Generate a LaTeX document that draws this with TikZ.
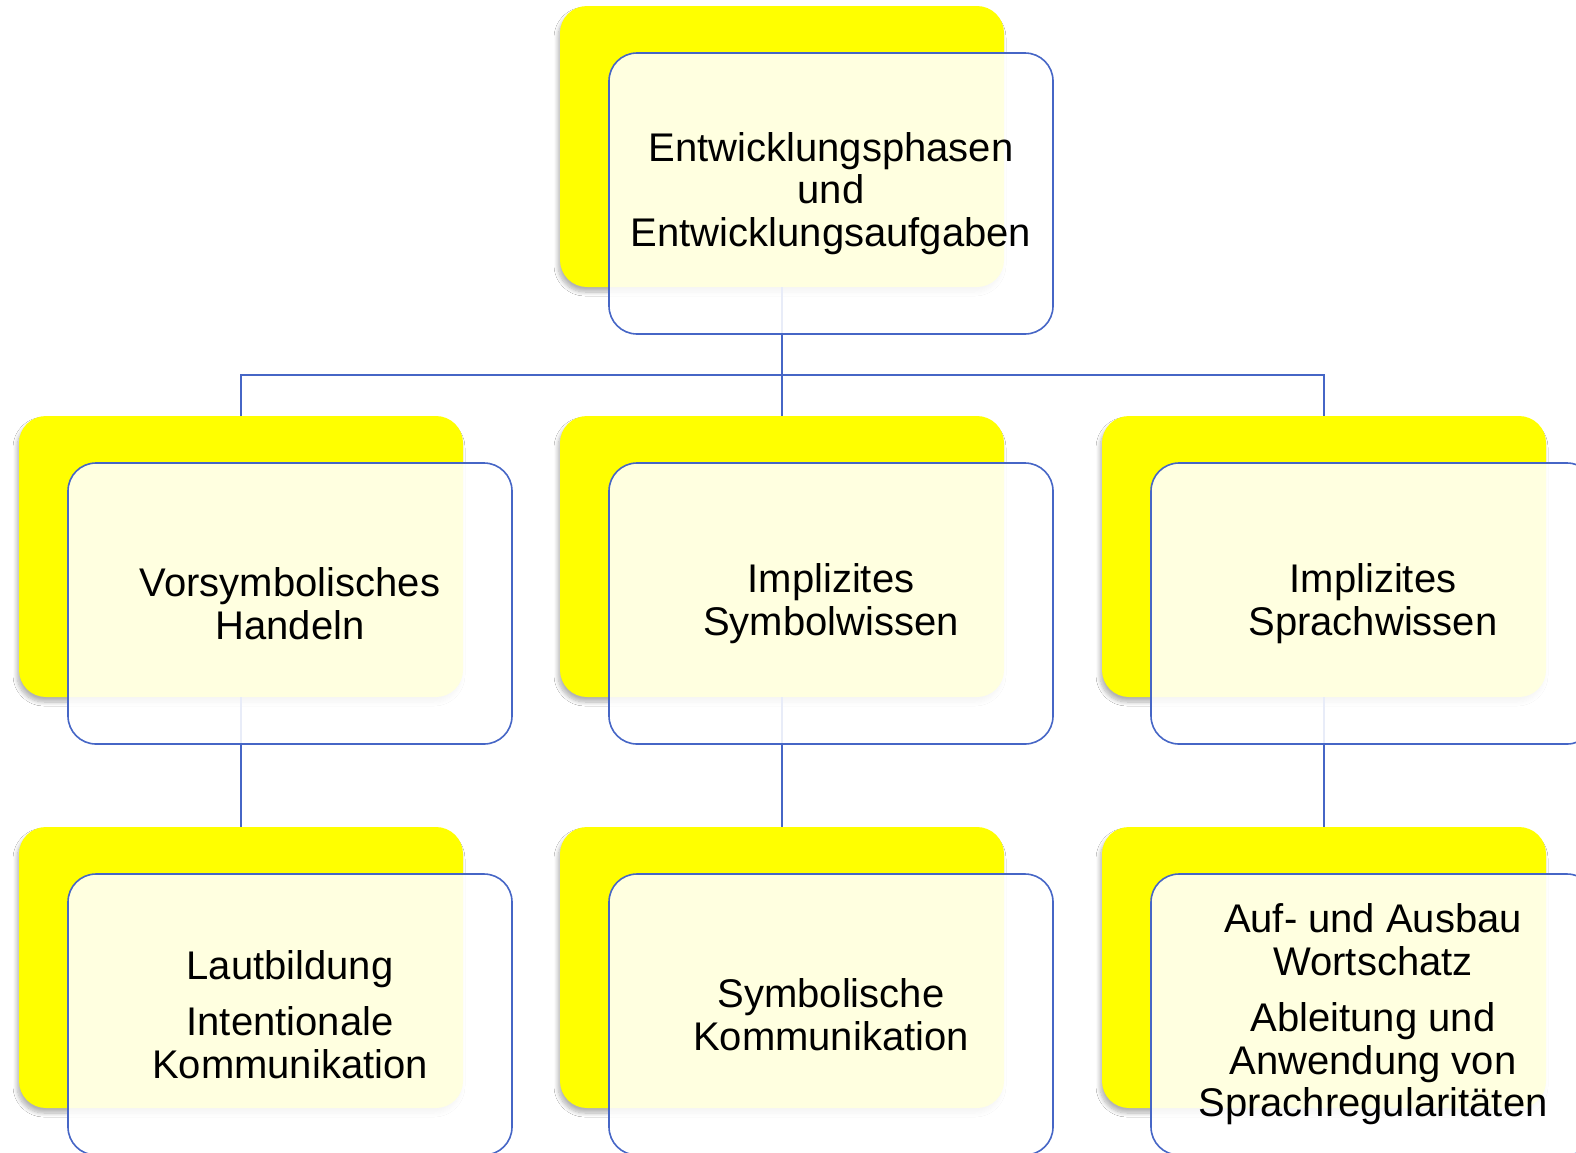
\documentclass[tikz,border=0pt]{standalone}
\usepackage{fontspec}
\setmainfont{Liberation Sans}
\usetikzlibrary{shadows.blur}
\definecolor{blueline}{RGB}{70,102,198}
\definecolor{boxyellow}{RGB}{255,255,0}
\tikzset{
  backbox/.style={rectangle, rounded corners=27pt, fill=boxyellow, draw=none,
    minimum width=444pt, minimum height=281pt, inner sep=0pt, outer sep=0pt,
    blur shadow={shadow xshift=-2pt, shadow yshift=-5pt, shadow blur radius=4pt, shadow blur steps=10, shadow opacity=30}},
  frontbox/.style={rectangle, rounded corners=28pt, fill=white, fill opacity=0.88, text opacity=1,
    draw=blueline, line width=1.6pt,
    minimum width=444pt, minimum height=281pt, inner sep=0pt, outer sep=0pt,
    align=center, font=\fontsize{40}{42.5}\selectfont},
  conn/.style={draw=blueline, line width=1.8pt}
}
\begin{document}
\begin{tikzpicture}[x=1pt, y=-1pt]
\clip (0,0) rectangle (1576,1152);
\fill[white] (0,0) rectangle (1576,1152);
% back boxes
\node[backbox] (y0) at (782,146.5) {};
\node[backbox] (y1) at (241,556.5) {};
\node[backbox] (y2) at (782,556.5) {};
\node[backbox] (y3) at (1324,556.5) {};
\node[backbox] (y4) at (241,967.5) {};
\node[backbox] (y5) at (782,967.5) {};
\node[backbox] (y6) at (1324,967.5) {};
% connectors
\coordinate (bus) at (782,375);
\draw[conn] (y0.south) -- (bus);
\draw[conn] (y1.north) |- (bus) -| (y3.north);
\draw[conn] (bus) -- (y2.north);
\draw[conn] (y1.south) -- (y4.north);
\draw[conn] (y2.south) -- (y5.north);
\draw[conn] (y3.south) -- (y6.north);
% front boxes
\node[frontbox] (f0) at (831,193.5) {Entwicklungsphasen\\und\\Entwicklungsaufgaben};
\node[frontbox] (f1) at (290,603.5) {Vorsymbolisches\\Handeln};
\node[frontbox] (f2) at (831,603.5) {Implizites\\Symbolwissen};
\node[frontbox] (f3) at (1373,603.5) {Implizites\\Sprachwissen};
\node[frontbox] (f4) at (290,1014.5) {Lautbildung\\[14pt]Intentionale\\Kommunikation};
\node[frontbox] (f5) at (831,1014.5) {Symbolische\\Kommunikation};
\node[frontbox] (f6) at (1373,1014.5) {Auf- und Ausbau\\Wortschatz\\[14pt]Ableitung und\\Anwendung von\\Sprachregularitäten};
\end{tikzpicture}
\end{document}
